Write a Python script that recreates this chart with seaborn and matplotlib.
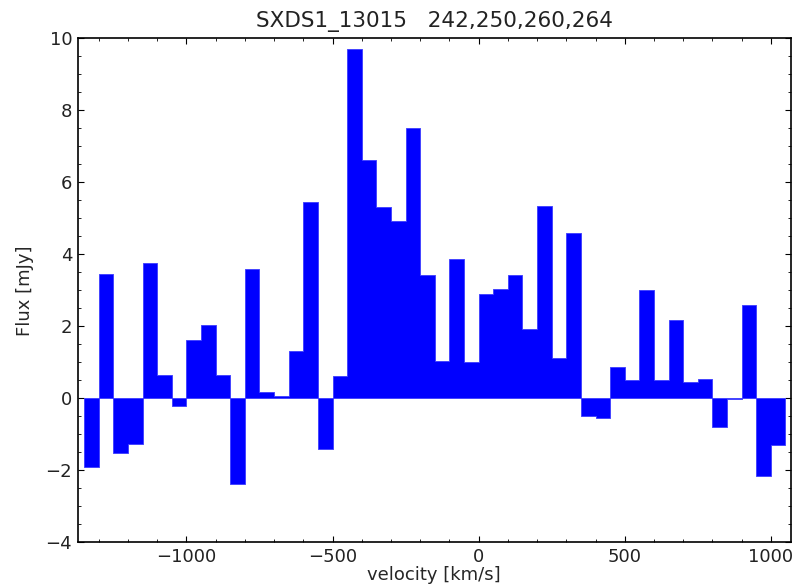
import numpy as np
import pandas as pd
import matplotlib
matplotlib.use("Agg")
import matplotlib.pyplot as plt
import seaborn as sns
from matplotlib.ticker import MultipleLocator

# Channel layout (km/s)
bin_width = 50
first_edge = -1350

# Flux density per channel (mJy)
flux = [
    -1.90, 3.44, -1.51, -1.27, 3.77, 0.65, -0.22, 1.62, 2.03, 0.65,
    -2.38, 3.59, 0.18, 0.05, 1.32, 5.46, -1.42, 0.63, 9.71, 6.62,
    5.31, 4.92, 7.50, 3.42, 1.04, 3.86, 1.01, 2.90, 3.04, 3.42,
    1.92, 5.34, 1.13, 4.58, -0.48, -0.54, 0.88, 0.51, 3.01, 0.51,
    2.17, 0.44, 0.53, -0.80, -0.03, 2.60, -2.16, -1.30,
]

title = "SXDS1_13015   242,250,260,264"
x_label = "velocity [km/s]"
y_label = "Flux [mJy]"
x_ticks = [-1000, -500, 0, 500, 1000]
y_ticks = [-4, -2, 0, 2, 4, 6, 8, 10]

n = len(flux)
centers = first_edge + bin_width * (np.arange(n) + 0.5)
df = pd.DataFrame({"velocity": centers, "flux": flux})

sns.set_style("ticks")
plt.rcParams.update({
    "font.family": ["DejaVu Sans"],
    "xtick.direction": "in",
    "ytick.direction": "in",
    "xtick.top": True,
    "ytick.right": True,
    "xtick.major.size": 4,
    "ytick.major.size": 4,
    "xtick.minor.size": 2,
    "ytick.minor.size": 2,
    "xtick.major.width": 0.8,
    "ytick.major.width": 0.8,
    "axes.linewidth": 1.2,
    "axes.edgecolor": "black",
    "text.color": "#222222",
    "xtick.color": "black",
    "ytick.color": "black",
    "xtick.labelcolor": "#222222",
    "ytick.labelcolor": "#222222",
})

fig = plt.figure(figsize=(8.11, 5.86), dpi=100)
ax = fig.add_axes([0.0958, 0.0746, 0.8792, 0.86])

sns.histplot(
    data=df, x="velocity", weights="flux",
    binwidth=bin_width, binrange=(first_edge, first_edge + n * bin_width),
    element="step", fill=True, color="#0000ff", alpha=1.0,
    linewidth=0.6, edgecolor="#3b3bff", ax=ax,
)

ax.set_xlim(-1372, 1068)
ax.set_ylim(-4, 10)
ax.set_xticks(x_ticks)
ax.set_yticks(y_ticks)
ax.xaxis.set_minor_locator(MultipleLocator(100))
ax.yaxis.set_minor_locator(MultipleLocator(0.5))
ax.tick_params(which="both", top=True, right=True, direction="in")
ax.tick_params(labelsize=13, pad=4)

ax.set_xlabel(x_label, fontsize=13, labelpad=0)
ax.set_ylabel(y_label, fontsize=13, labelpad=8)
ax.set_title(title, fontsize=15.5, pad=8)

fig.savefig("out.png", dpi=100)
